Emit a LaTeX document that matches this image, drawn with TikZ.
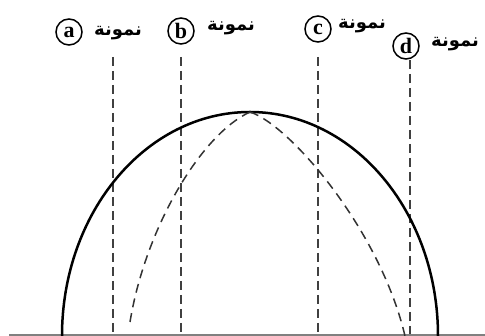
\documentclass[tikz,border=0pt]{standalone}
\usepackage{fontspec}
\newfontfamily\arabicfont[Script=Arabic]{DejaVu Sans}
\newfontfamily\lettfont{Liberation Serif}
\TeXXeTstate=1
\begin{document}
\begin{tikzpicture}[x=1pt,y=1pt,
  lbl/.style={circle,draw,line width=1.5pt,minimum size=26pt,inner sep=0pt,font=\lettfont\bfseries\fontsize{22}{22}\selectfont},
  word/.style={inner sep=0pt,font=\arabicfont\bfseries\fontsize{18}{20}\selectfont},
  guide/.style={dash pattern=on 9pt off 5pt,line width=1.7pt,black!75},
  inner/.style={dash pattern=on 9pt off 6pt,line width=1.5pt,black!80},
  outer/.style={line width=2.5pt}]
\useasboundingbox (0,0) rectangle (485,336);
% labels
\node[lbl] (ca) at (69,304) {a};
\node[word] (ta) at (118,303) {\beginR نمونة\endR};
\node[lbl] (cb) at (181,305) {b};
\node[word] (tb) at (231,308) {\beginR نمونة\endR};
\node[lbl] (cc) at (318,307) {c};
\node[word] (tc) at (362,310) {\beginR نمونة\endR};
\node[lbl] (cd) at (406,290) {d};
\node[word] (td) at (455,292) {\beginR نمونة\endR};
% guide line ends
\coordinate (ga) at (113,279); \coordinate (ga0) at (113,0);
\coordinate (gb) at (181,279); \coordinate (gb0) at (181,0);
\coordinate (gc) at (318,279); \coordinate (gc0) at (318,0);
\coordinate (gd) at (410,276); \coordinate (gd0) at (410,0);
\draw[guide] (ga) -- (ga0);
\draw[guide] (gb) -- (gb0);
\draw[guide] (gc) -- (gc0);
\draw[guide] (gd) -- (gd0);
% base line
\coordinate (bl) at (9,1); \coordinate (br) at (485,1);
\draw[gray,line width=1.2pt] (bl) -- (br);
% outer arch
\coordinate (top) at (250,224);
\coordinate (ol) at (62,0);
\draw[outer] (ol) arc[start angle=180,end angle=0,x radius=188,y radius=224];
% inner dashed arch
\coordinate (il) at (130,14);
\coordinate (ir) at (405,0);
\draw[inner] (top) .. controls (200,201) and (145,106) .. (il);
\draw[inner] (top) .. controls (290,211) and (380,106) .. (ir);
\end{tikzpicture}
\end{document}
